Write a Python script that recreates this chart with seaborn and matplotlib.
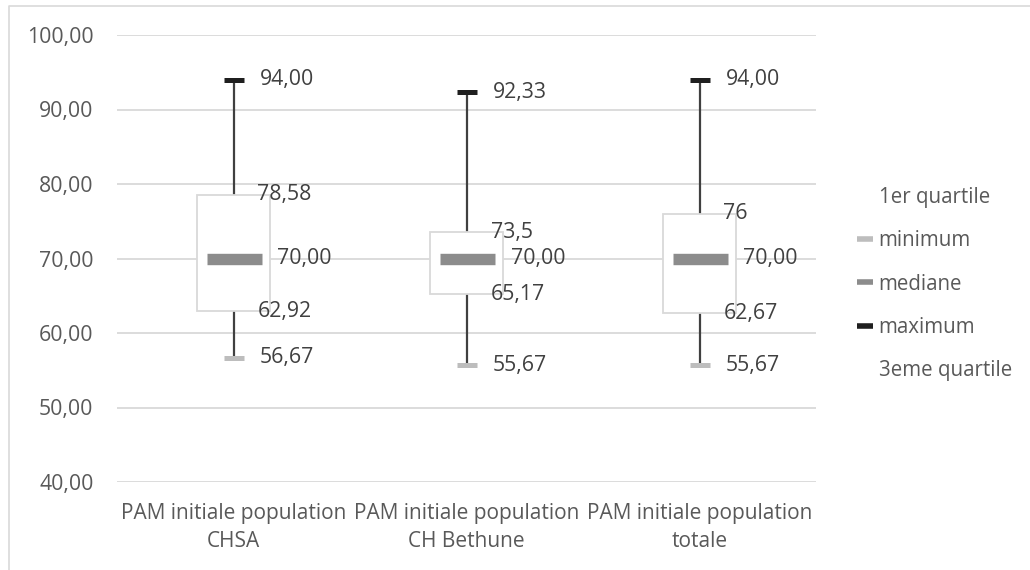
import numpy as np
import pandas as pd
import matplotlib
matplotlib.use("Agg")
import matplotlib.pyplot as plt
from matplotlib.lines import Line2D
from matplotlib.ticker import FuncFormatter, FixedLocator
import seaborn as sns

# Five-number summary of the initial mean arterial pressure, per population
categories = [
    "PAM initiale population\nCHSA",
    "PAM initiale population\nCH Bethune",
    "PAM initiale population\ntotale",
]
minimum = [56.67, 55.67, 55.67]
quartile1 = [62.92, 65.17, 62.67]
mediane = [70.00, 70.00, 70.00]
quartile3 = [78.58, 73.5, 76]
maximum = [94.00, 92.33, 94.00]
y_ticks = [40, 50, 60, 70, 80, 90, 100]
legend_labels = ["1er quartile", "minimum", "mediane", "maximum", "3eme quartile"]

sns.set_style("white")
plt.rcParams["font.family"] = ["Open Sans", "DejaVu Sans"]

TXT = "#595959"
LBL = "#404040"
GRID = "#d9d9d9"
C_MIN = "#bdbdbd"
C_MED = "#8c8c8c"
C_MAX = "#1f1f1f"
C_WHISK = "#404040"

W, H = 1030, 570
fig = plt.figure(figsize=(W / 100, H / 100), dpi=100)
ax = fig.add_axes([117 / W, 1 - 482 / H, (816 - 117) / W, (482 - 35) / H])

df = pd.DataFrame({
    "categorie": categories,
    "q1": quartile1,
    "ecart": np.subtract(quartile3, quartile1),
})

# Interquartile box: white bar stacked on the first quartile
sns.barplot(data=df, x="categorie", y="ecart", bottom=df["q1"].to_numpy(),
            width=0.314, color="white", edgecolor=GRID, linewidth=1.3,
            errorbar=None, ax=ax, zorder=3)

pos = np.arange(len(categories))
# Whiskers
ax.vlines(pos, quartile3, maximum, color=C_WHISK, lw=1.6, zorder=2)
ax.vlines(pos, minimum, quartile1, color=C_WHISK, lw=1.6, zorder=2)

# Markers for minimum, median and maximum
sns.pointplot(x=categories, y=minimum, color=C_MIN, marker="_", markersize=14.4,
              markeredgewidth=3.6, linestyle="none", errorbar=None, ax=ax, zorder=4)
sns.pointplot(x=categories, y=maximum, color=C_MAX, marker="_", markersize=14.4,
              markeredgewidth=3.6, linestyle="none", errorbar=None, ax=ax, zorder=4)
sns.pointplot(x=categories, y=mediane, color=C_MED, marker="_", markersize=39.6,
              markeredgewidth=8.2, linestyle="none", errorbar=None, ax=ax, zorder=4)


def fr2(v):
    return f"{v:.2f}".replace(".", ",")


def frg(v):
    return f"{v:g}".replace(".", ",")


lab_kw = dict(textcoords="offset pixels", va="center", ha="left",
              fontsize=15.3, color=LBL, zorder=6)
for i in pos:
    ax.annotate(fr2(maximum[i]), xy=(i, maximum[i]), xytext=(26, 0), **lab_kw)
    ax.annotate(frg(quartile3[i]), xy=(i, quartile3[i]), xytext=(24, 0), **lab_kw)
    ax.annotate(fr2(mediane[i]), xy=(i, mediane[i]), xytext=(44, 0), **lab_kw)
    ax.annotate(frg(quartile1[i]), xy=(i, quartile1[i]), xytext=(24, 0), **lab_kw)
    ax.annotate(fr2(minimum[i]), xy=(i, minimum[i]), xytext=(26, 0), **lab_kw)

ax.set_xlim(-0.5, len(categories) - 0.5)
ax.set_ylim(y_ticks[0], y_ticks[-1])
ax.yaxis.set_major_locator(FixedLocator(y_ticks))
ax.yaxis.set_major_formatter(FuncFormatter(lambda v, p: fr2(v)))
ax.yaxis.grid(True, color=GRID, lw=1.3)
ax.xaxis.grid(False)
ax.set_axisbelow(True)
for s in ax.spines.values():
    s.set_visible(False)
ax.set_xlabel("")
ax.set_ylabel("")
ax.tick_params(axis="y", length=0, pad=17, labelsize=15.3, labelcolor=TXT)
ax.tick_params(axis="x", length=0, pad=15, labelsize=15, labelcolor=TXT)
for t in ax.get_xticklabels():
    t.set_linespacing(1.45)

# Legend
handles = [
    Line2D([], [], color="none"),
    Line2D([], [], color=C_MIN, lw=4, solid_capstyle="butt"),
    Line2D([], [], color=C_MED, lw=4, solid_capstyle="butt"),
    Line2D([], [], color=C_MAX, lw=4, solid_capstyle="butt"),
    Line2D([], [], color="none"),
]
leg = fig.legend(handles, legend_labels, loc="center left",
                 bbox_to_anchor=(857 / W, 1 - 284 / H), frameon=False,
                 fontsize=14.8, handlelength=0.8, handletextpad=0.25,
                 labelspacing=1.08, borderpad=0, borderaxespad=0)
for t in leg.get_texts():
    t.set_color(TXT)

# Chart area border
fig.add_artist(Line2D([9 / W, 9 / W, 1], [0, 1 - 6 / H, 1 - 6 / H],
                      transform=fig.transFigure, color=GRID, lw=1.2))

fig.savefig("out.png", dpi=100, facecolor="white")
